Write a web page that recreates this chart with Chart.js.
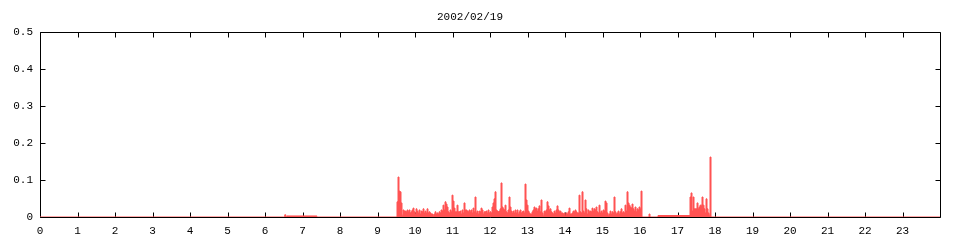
<!DOCTYPE html>
<html>
<head>
<meta charset="utf-8">
<script src="https://cdn.jsdelivr.net/npm/chart.js@4/dist/chart.umd.min.js"></script>
<style>
  html, body { margin: 0; padding: 0; background: #ffffff; }
  #wrap { width: 960px; height: 240px; position: relative; }
</style>
</head>
<body>
<div id="wrap"><canvas id="c" width="960" height="240"></canvas></div>
<script>
// ---- data ----
const chartTitle = '2002/02/19';
const xTickHours = [0,1,2,3,4,5,6,7,8,9,10,11,12,13,14,15,16,17,18,19,20,21,22,23];
const yTickValues = [0, 0.1, 0.2, 0.3, 0.4, 0.5];
const sampleMinutes = 1.6;

// early-morning block, starts 06:30
const morningStartMin = 390;
const morningLoad = [0, 0.006, 0,
  0.003,0.003,0.003,0.003,0.003,0.003,0.003,0.003,0.003,0.003,
  0.003,0.003,0.003,0.003,0.003,0.003,0.003,0.003,0.003,0.003,
  0.003,0.003,0.003,0.003,0.003,0.003,0.003,0.003,0.003,0.003,
  0];

// day block, starts 09:28
const dayStartMin = 568;
const dayLoad = [
  0,0,0.041,0.108,0.07,0.068,0.038,0.005,0.019,0.016,
  0.016,0.014,0.019,0.014,0.019,0.011,0.014,0.019,0.024,0.014,
  0.008,0.022,0.016,0.011,0.019,0.008,0.016,0.014,0.022,0.011,
  0.016,0.011,0.022,0.011,0.014,0.011,0.008,0.008,0.005,0.008,
  0.014,0.008,0.011,0.008,0.014,0.011,0.019,0.016,0.032,0.019,
  0.041,0.035,0.027,0.014,0.011,
  0.019,0.014,0.059,0.043,0.024,0.014,0.014,0.032,0.014,0.014,
  0.016,0.008,0.019,0.011,0.038,0.019,0.019,0.016,0.014,0.019,
  0.014,0.019,0.011,0.024,0.014,0.054,0.011,0.016,0.008,0.016,
  0.014,0.024,0.019,0.008,0.014,0.014,0.016,0.011,0.019,0.011,
  0.014,0.011,0.027,0.038,0.049,0.068,0.019,0.016,0.014,0.016,
  0.022,0.092,0.027,0.022,0.019,
  0.032,0.014,0.011,0.019,0.054,0.027,0.016,0.011,0.016,0.011,
  0.019,0.011,0.019,0.008,0.014,0.019,0.011,0.014,0.016,0.011,
  0.089,0.046,0.032,0.016,0.011,0.008,0.008,0.014,0.019,0.027,
  0.022,0.024,0.016,0.022,0.03,0.014,0.046,0.011,0.005,0.016,
  0.014,0.019,0.041,0.03,0.019,0.022,0.014,0.011,0.008,0.016,
  0.011,0.019,0.03,0.019,0.014,
  0.016,0.011,0.011,0.008,0.011,0.005,0.011,0.008,0.014,0.024,
  0.008,0.008,0.011,0.016,0.014,0.019,0.014,0.011,0.011,0.059,
  0.014,0.011,0.068,0.016,0.011,0.046,0.022,0.008,0.019,0.014,
  0.016,0.014,0.024,0.016,0.022,0.019,0.027,0.014,0.011,0.032,
  0.011,0.016,0.011,0.019,0.016,0.043,0.038,0.011,0.005,0.008,
  0.016,0.008,0.014,0.011,0.054,
  0.014,0.008,0.011,0.016,0.008,0.014,0.022,0.011,0.014,0.011,
  0.032,0.016,0.068,0.038,0.032,0.027,0.024,0.035,0.022,0.016,
  0.027,0.014,0.022,0.019,0.027,0.022,0.07,
  0,0,0,0,0,0,0,
  0.008,
  0,0,0,0,0,0,0,0,
  0.004,0.004,0.004,0.004,0.004,0.004,0.004,0.004,0.004,0.004,
  0.004,0.004,0.004,0.004,0.004,0.004,0.004,0.004,0.004,0.004,
  0.004,0.004,0.004,0.004,0.004,0.004,0.004,0.004,0.004,0.004,
  0.004,0.004,
  0.054,0.065,0.016,0.054,0.022,0.022,0.022,0.038,0.022,0.027,
  0.032,0.032,0.054,0.032,0.022,0.011,0.049,0.022,0.011,0.005,
  0.162,
  0
];

// ---- build points ----
const points = [{x: 0, y: 0}];
morningLoad.forEach((v, i) => points.push({x: (morningStartMin + i * sampleMinutes) / 60, y: v}));
dayLoad.forEach((v, i) => points.push({x: (dayStartMin + i * sampleMinutes) / 60, y: v}));
points.push({x: 24, y: 0});

const FONT = {family: "'Liberation Mono', 'DejaVu Sans Mono', monospace", size: 11};
const RED = '#ff5252';

const frameTicks = {
  id: 'frameTicks',
  beforeDatasetsDraw(chart) {
    const {ctx, chartArea: a, scales} = chart;
    const L = Math.round(a.left) + 0.5, R = Math.round(a.right) + 0.5;
    const T = Math.round(a.top) + 0.5, B = Math.round(a.bottom) + 0.5;
    ctx.save();
    ctx.strokeStyle = '#000';
    ctx.lineWidth = 1;
    ctx.beginPath();
    ctx.rect(L, T, R - L, B - T);
    const tl = 5;
    xTickHours.forEach(h => {
      const px = Math.round(scales.x.getPixelForValue(h)) + 0.5;
      ctx.moveTo(px, B); ctx.lineTo(px, B - tl);
      ctx.moveTo(px, T); ctx.lineTo(px, T + tl);
    });
    yTickValues.forEach(v => {
      const py = Math.round(scales.y.getPixelForValue(v)) + 0.5;
      ctx.moveTo(L, py); ctx.lineTo(L + tl, py);
      ctx.moveTo(R, py); ctx.lineTo(R - tl, py);
    });
    ctx.stroke();
    ctx.restore();
  }
};

new Chart(document.getElementById('c'), {
  type: 'line',
  data: {
    datasets: [{
      data: points,
      stepped: true,
      borderColor: RED,
      backgroundColor: RED,
      borderWidth: 1,
      fill: 'origin',
      pointRadius: 0,
      tension: 0
    }]
  },
  options: {
    responsive: false,
    animation: false,
    events: [],
    layout: {padding: {left: 0, right: 20, top: 0, bottom: 0}},
    plugins: {
      legend: {display: false},
      tooltip: {enabled: false},
      title: {
        display: true,
        text: chartTitle,
        color: '#000',
        font: {...FONT, weight: 'normal'},
        padding: {top: 10, bottom: 8.8}
      }
    },
    scales: {
      x: {
        type: 'linear',
        min: 0, max: 24,
        afterFit(s) { s.height = 23; },
        grid: {display: false, drawTicks: false},
        border: {display: false},
        afterBuildTicks(s) { s.ticks = xTickHours.map(v => ({value: v})); },
        ticks: {
          color: '#000', font: FONT, padding: 7, maxRotation: 0, autoSkip: false,
          callback: v => String(v)
        }
      },
      y: {
        min: 0, max: 0.5,
        afterFit(s) { s.width = 40; },
        grid: {display: false, drawTicks: false},
        border: {display: false},
        afterBuildTicks(s) { s.ticks = yTickValues.map(v => ({value: v})); },
        ticks: {
          color: '#000', font: FONT, padding: 7,
          callback: v => String(Math.round(v * 10) / 10)
        }
      }
    }
  },
  plugins: [frameTicks]
});
</script>
</body>
</html>
